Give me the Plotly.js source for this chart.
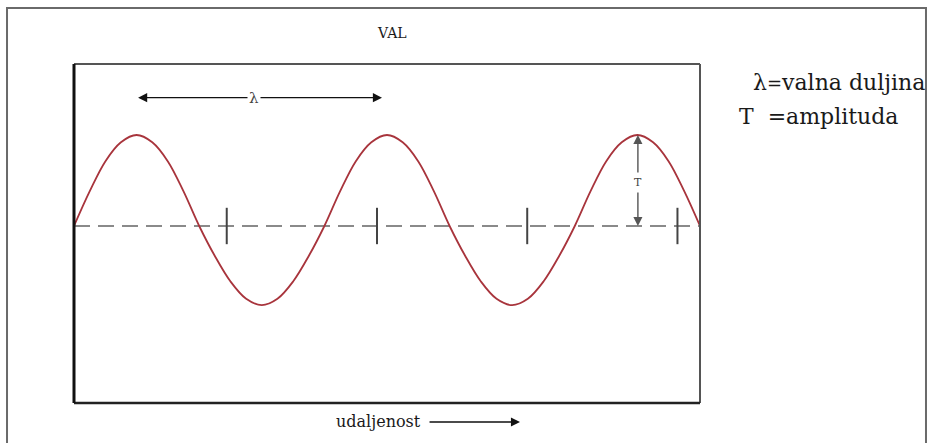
<!DOCTYPE html>
<html>
<head>
<meta charset="utf-8">
<script src="https://cdn.plot.ly/plotly-3.0.1.min.js"></script>
<style>html,body{margin:0;padding:0;background:#fff;}#chart{width:928px;height:443px;}</style>
</head>
<body>
<div id="chart"></div>
<script>
// distance along the wave, in wavelengths
const distance = [0, 0.0625, 0.125, 0.1875, 0.25, 0.3125, 0.375, 0.4375, 0.5, 0.5625, 0.625, 0.6875, 0.75, 0.8125, 0.875, 0.9375,
  1.0, 1.0625, 1.125, 1.1875, 1.25, 1.3125, 1.375, 1.4375, 1.5, 1.5625, 1.625, 1.6875, 1.75, 1.8125, 1.875, 1.9375,
  2.0, 2.0625, 2.125, 2.1875, 2.25, 2.3125, 2.375, 2.4375, 2.5];
// displacement (peak = 1)
const displacement = [0, 0.38, 0.71, 0.92, 1.00, 0.92, 0.71, 0.38, 0, -0.33, -0.61, -0.80, -0.87, -0.80, -0.61, -0.33,
  0, 0.38, 0.71, 0.92, 1.00, 0.92, 0.71, 0.38, 0, -0.33, -0.61, -0.80, -0.87, -0.80, -0.61, -0.33,
  0, 0.38, 0.71, 0.92, 1.00, 0.92, 0.71, 0.38, 0];
const baselineX = [0, 2.5];
const baselineY = [0, 0];
const tickMarksX = [0.61, 1.21, 1.81, 2.41];
const tickMarksY = [0, 0, 0, 0];
const lambdaStart = 0.256, lambdaEnd = 1.23, lambdaLevel = 1.41, lambdaLabelX = 0.72;
const ampX = 2.252, ampTop = 1.0, ampBottom = 0, ampLabelY = 0.48;

const serif = "DejaVu Serif, Liberation Serif, serif";

const traces = [
  {x: baselineX, y: baselineY, mode: 'lines', line: {color: '#8a8a8a', width: 2, dash: '16px,8px'}, hoverinfo: 'skip'},
  {x: tickMarksX, y: tickMarksY, mode: 'markers', marker: {symbol: 'line-ns-open', size: 26, color: '#444', line: {color: '#444', width: 2}}, hoverinfo: 'skip'},
  {x: distance, y: displacement, mode: 'lines', line: {color: '#a8343c', width: 1.8, shape: 'spline', smoothing: 1}, hoverinfo: 'skip'}
];

function dataArrow(x, y, ax, ay, color) {
  return {x: x, y: y, ax: ax, ay: ay, xref: 'x', yref: 'y', axref: 'x', ayref: 'y', text: '', showarrow: true,
    arrowhead: 2, arrowsize: 1.3, arrowwidth: 1.4, arrowcolor: color, standoff: 0, startstandoff: 0};
}

function label(x, y, text, size, xanchor) {
  return {x: x, y: y, xref: 'paper', yref: 'paper', xanchor: xanchor, yanchor: 'middle', text: text, showarrow: false,
    font: {family: serif, size: size, color: '#1a1a1a'}};
}

const annotations = [
  dataArrow(lambdaStart, lambdaLevel, lambdaLabelX, lambdaLevel, '#111'),
  dataArrow(lambdaEnd, lambdaLevel, lambdaLabelX, lambdaLevel, '#111'),
  {x: lambdaLabelX, y: lambdaLevel, xref: 'x', yref: 'y', xanchor: 'center', yanchor: 'middle', text: 'λ', showarrow: false, bgcolor: '#fff',
    font: {family: serif, size: 15, color: '#444'}, borderpad: 1},
  dataArrow(ampX, ampTop, ampX, ampLabelY, '#555'),
  dataArrow(ampX, ampBottom, ampX, ampLabelY, '#555'),
  {x: ampX, y: ampLabelY, xref: 'x', yref: 'y', xanchor: 'center', yanchor: 'middle', text: 'T', showarrow: false, bgcolor: '#fff',
    font: {family: serif, size: 11, color: '#444'}, borderpad: 3},
  label(0.508, 1.091, 'VAL', 14, 'center'),
  label(1.0815, 0.944, 'λ<span style="font-size:18px">=</span>valna duljina', 22, 'left'),
  label(1.059, 0.8466, 'T&nbsp;&nbsp;=amplituda', 22, 'left'),
  label(0.5575, -0.056, 'udaljenost', 16, 'right'),
  {x: 0.7125, y: -0.056, xref: 'paper', yref: 'paper', ax: -92, ay: 0, axref: 'pixel', ayref: 'pixel', text: '', showarrow: true,
    arrowhead: 2, arrowsize: 1.3, arrowwidth: 1.4, arrowcolor: '#111', standoff: 0}
];

const shapes = [
  {type: 'rect', xref: 'paper', yref: 'paper', x0: -0.107, x1: 1.361, y0: -0.3, y1: 1.165, line: {color: '#6a6a6a', width: 2}},
  {type: 'line', xref: 'paper', yref: 'paper', x0: 0, x1: 1, y0: 1, y1: 1, line: {color: '#555', width: 2}},
  {type: 'line', xref: 'paper', yref: 'paper', x0: 1, x1: 1, y0: 0, y1: 1, line: {color: '#555', width: 2}},
  {type: 'line', xref: 'paper', yref: 'paper', x0: 0, x1: 1, y0: 0, y1: 0, line: {color: '#222', width: 2.5}},
  {type: 'line', xref: 'paper', yref: 'paper', x0: 0, x1: 0, y0: 0, y1: 1, line: {color: '#111', width: 3}}
];

const layout = {
  width: 928, height: 443, autosize: false,
  margin: {l: 74, r: 228, t: 64, b: 40, pad: 0},
  paper_bgcolor: '#fff', plot_bgcolor: '#fff',
  showlegend: false,
  xaxis: {range: [0, 2.5], visible: false, fixedrange: true},
  yaxis: {range: [-1.945, 1.78], visible: false, fixedrange: true},
  annotations: annotations,
  shapes: shapes
};

Plotly.newPlot('chart', traces, layout, {staticPlot: true, displayModeBar: false});
</script>
</body>
</html>
